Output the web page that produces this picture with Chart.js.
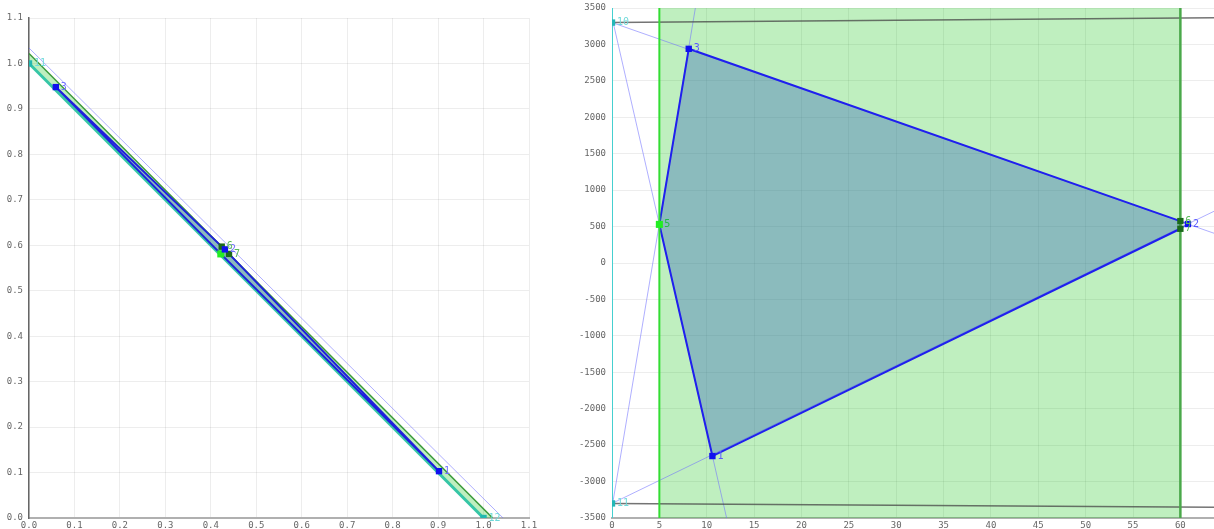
<!DOCTYPE html>
<html>
<head>
<meta charset="utf-8">
<script src="https://cdn.jsdelivr.net/npm/chart.js@4/dist/chart.umd.min.js"></script>
<style>
  html, body { margin: 0; padding: 0; background: #fff; overflow: hidden; }
  #left { position: absolute; left: 0; top: 0; }
  #right { position: absolute; left: 555px; top: 0; }
</style>
</head>
<body>
<canvas id="left" width="545" height="529"></canvas>
<canvas id="right" width="659" height="529"></canvas>
<script>
// ---------- Left panel data ----------
const L_bandX = [0, 1.0, 1.02, 0, 0];
const L_bandY = [1.0, 0, 0, 1.022, 1.0];
const L_topEdgeX = [0, 1.02];
const L_topEdgeY = [1.022, 0];
const L_baseX = [0, 1.0];
const L_baseY = [1.0, 0];
const L_guideX = [0, 1.043];
const L_guideY = [1.034, 0];
const L_polyX = [0.059, 0.424, 0.440, 0.902, 0.422, 0.059];
const L_polyY = [0.948, 0.597, 0.581, 0.103, 0.581, 0.948];
const L_blueLabels = ['1', '2', '3'];
const L_blueX = [0.902, 0.431, 0.059];
const L_blueY = [0.103, 0.591, 0.948];
const L_limeLabels = [''];
const L_limeX = [0.422];
const L_limeY = [0.581];
const L_darkLabels = ['6', '7'];
const L_darkX = [0.424, 0.440];
const L_darkY = [0.597, 0.581];
const L_cyanLabels = ['11', '12'];
const L_cyanX = [0, 1.0];
const L_cyanY = [1.0, 0];

// ---------- Right panel data ----------
const R_rectX = [5, 60, 60, 5, 5];
const R_rectY = [-3500, -3500, 3500, 3500, -3500];
const R_leftEdgeX = [5, 5];
const R_leftEdgeY = [-3500, 3500];
const R_rightEdgeX = [60, 60];
const R_rightEdgeY = [-3500, 3500];
const R_axisX = [0, 0];
const R_axisY = [-3500, 3500];
const R_grayTopX = [0, 63.6];
const R_grayTopY = [3300, 3365];
const R_grayBotX = [0, 63.6];
const R_grayBotY = [-3300, -3352];
const R_lineAX = [0, 63.6];
const R_lineAY = [3300, 406];
const R_lineBX = [0, 63.6];
const R_lineBY = [-3300, 713];
const R_lineCX = [0, 12.1];
const R_lineCY = [3370, -3500];
const R_lineDX = [0, 8.8];
const R_lineDY = [-3355, 3500];
const R_polyX = [8.1, 60, 60, 10.6, 5, 8.1];
const R_polyY = [2940, 575, 470, -2650, 530, 2940];
const R_tipX = [60, 60.8, 60];
const R_tipY = [575, 535, 470];
const R_blueLabels = ['1', '2', '3'];
const R_blueX = [10.6, 60.8, 8.1];
const R_blueY = [-2650, 535, 2940];
const R_limeLabels = ['5'];
const R_limeX = [5];
const R_limeY = [530];
const R_darkLabels = ['6', '7'];
const R_darkX = [60, 60];
const R_darkY = [575, 470];
const R_cyanLabels = ['10', '11'];
const R_cyanX = [0, 0];
const R_cyanY = [3300, -3300];

// ---------- helpers ----------
const pts = (xs, ys) => xs.map((x, i) => ({ x: x, y: ys[i] }));
const MONO = 'DejaVu Sans Mono';

function lineDs(xs, ys, color, width) {
  return { data: pts(xs, ys), showLine: true, borderColor: color, borderWidth: width,
           pointRadius: 0, fill: false, tension: 0 };
}
function shapeDs(xs, ys, fillColor, borderColor, width) {
  return { data: pts(xs, ys), showLine: true, backgroundColor: fillColor,
           borderColor: borderColor, borderWidth: width, pointRadius: 0,
           fill: 'shape', tension: 0 };
}
function pointDs(xs, ys, labels, color, labelColor, r) {
  return { data: pts(xs, ys), showLine: false, pointStyle: 'rect', pointRadius: r,
           pointHoverRadius: r, backgroundColor: color, borderColor: color, borderWidth: 0,
           ptLabels: labels, ptLabelColor: labelColor };
}

const labelPlugin = {
  id: 'ptLabels',
  afterDatasetsDraw(chart) {
    const ctx = chart.ctx;
    ctx.save();
    ctx.font = '10px ' + MONO;
    ctx.textBaseline = 'middle';
    ctx.textAlign = 'left';
    chart.data.datasets.forEach((ds, i) => {
      if (!ds.ptLabels) return;
      const meta = chart.getDatasetMeta(i);
      ctx.fillStyle = ds.ptLabelColor;
      meta.data.forEach((el, j) => {
        if (ds.ptLabels[j]) ctx.fillText(ds.ptLabels[j], el.x + 5, el.y);
      });
    });
    ctx.restore();
  }
};

function zeroPad(s) { s.paddingLeft = 0; s.paddingRight = 0; s.paddingTop = 0; s.paddingBottom = 0; }

function baseScales(xmin, xmax, xstep, ymin, ymax, ystep, yWidth, fmt, yBorder) {
  const tickFont = { family: MONO, size: 9 };
  return {
    x: {
      type: 'linear', min: xmin, max: xmax,
      ticks: { stepSize: xstep, includeBounds: false, color: '#666', font: tickFont, padding: 2, maxRotation: 0,
               callback: v => fmt(v) },
      grid: { color: 'rgba(0,0,0,0.07)', drawTicks: false },
      border: { color: '#b0b0b0', width: 2 },
      afterFit: s => { s.height = 11; zeroPad(s); }
    },
    y: {
      type: 'linear', min: ymin, max: ymax,
      ticks: { stepSize: ystep, includeBounds: false, color: '#666', font: tickFont, padding: 6,
               callback: v => fmt(v) },
      grid: { color: 'rgba(0,0,0,0.07)', drawTicks: false },
      border: yBorder,
      afterFit: s => { s.width = yWidth; zeroPad(s); }
    }
  };
}

function makeChart(id, layers, scales, padding) {
  return new Chart(document.getElementById(id), {
    type: 'scatter',
    data: { datasets: layers.slice().reverse() },
    options: {
      responsive: false, animation: false, devicePixelRatio: 1,
      layout: { padding: padding, autoPadding: false },
      plugins: { legend: { display: false }, tooltip: { enabled: false } },
      scales: scales
    },
    plugins: [labelPlugin]
  });
}

// ---------- Left chart (layers bottom -> top) ----------
const fmt1 = v => Number(v).toFixed(1);
const leftLayers = [
  shapeDs(L_bandX, L_bandY, 'rgba(0,190,0,0.25)', 'rgba(0,0,0,0)', 0),
  lineDs(L_guideX, L_guideY, 'rgba(110,110,255,0.55)', 1),
  lineDs(L_baseX, L_baseY, '#36c6a6', 3),
  lineDs(L_topEdgeX, L_topEdgeY, '#3a9a3a', 1.5),
  shapeDs(L_polyX, L_polyY, 'rgba(60,110,185,0.4)', '#1f1fdd', 2),
  pointDs(L_cyanX, L_cyanY, L_cyanLabels, '#22b8b0', '#70dada', 4.5),
  pointDs(L_limeX, L_limeY, L_limeLabels, '#22ee22', '#22cc22', 5),
  pointDs(L_darkX, L_darkY, L_darkLabels, '#1a6a1a', '#5aba5a', 4.5),
  pointDs(L_blueX, L_blueY, L_blueLabels, '#1010ee', '#7070ff', 4.5)
];
makeChart('left', leftLayers,
  baseScales(0, 1.1, 0.1, 0, 1.1, 0.1, 29, fmt1, { color: '#666', width: 1.5 }),
  { top: 18, bottom: 0, left: 0, right: 16 });

// ---------- Right chart (layers bottom -> top) ----------
const fmt0 = v => String(Math.round(v));
const rightLayers = [
  shapeDs(R_rectX, R_rectY, 'rgba(0,190,0,0.25)', 'rgba(0,0,0,0)', 0),
  lineDs(R_lineAX, R_lineAY, 'rgba(110,110,255,0.55)', 1),
  lineDs(R_lineBX, R_lineBY, 'rgba(110,110,255,0.55)', 1),
  lineDs(R_lineCX, R_lineCY, 'rgba(110,110,255,0.55)', 1),
  lineDs(R_lineDX, R_lineDY, 'rgba(110,110,255,0.55)', 1),
  lineDs(R_grayTopX, R_grayTopY, 'rgba(70,70,70,0.75)', 1.5),
  lineDs(R_grayBotX, R_grayBotY, 'rgba(70,70,70,0.75)', 1.5),
  shapeDs(R_polyX, R_polyY, 'rgba(60,110,185,0.4)', '#1f1fee', 2),
  lineDs(R_tipX, R_tipY, 'rgba(40,40,240,0.6)', 1.5),
  lineDs(R_leftEdgeX, R_leftEdgeY, '#33dd33', 2),
  lineDs(R_rightEdgeX, R_rightEdgeY, '#4aa84a', 2.5),
  lineDs(R_axisX, R_axisY, '#45d0d0', 2),
  pointDs(R_cyanX, R_cyanY, R_cyanLabels, '#22b8b8', '#70dada', 4.5),
  pointDs(R_limeX, R_limeY, R_limeLabels, '#22ee22', '#22bb44', 5),
  pointDs(R_darkX, R_darkY, R_darkLabels, '#1a6a1a', '#5aba5a', 4.5),
  pointDs(R_blueX, R_blueY, R_blueLabels, '#1010ee', '#5a5aff', 4.5)
];
makeChart('right', rightLayers,
  baseScales(0, 63.55, 5, -3500, 3500, 500, 57, fmt0, { display: false }),
  { top: 8, bottom: 0, left: 0, right: 0 });
</script>
</body>
</html>
